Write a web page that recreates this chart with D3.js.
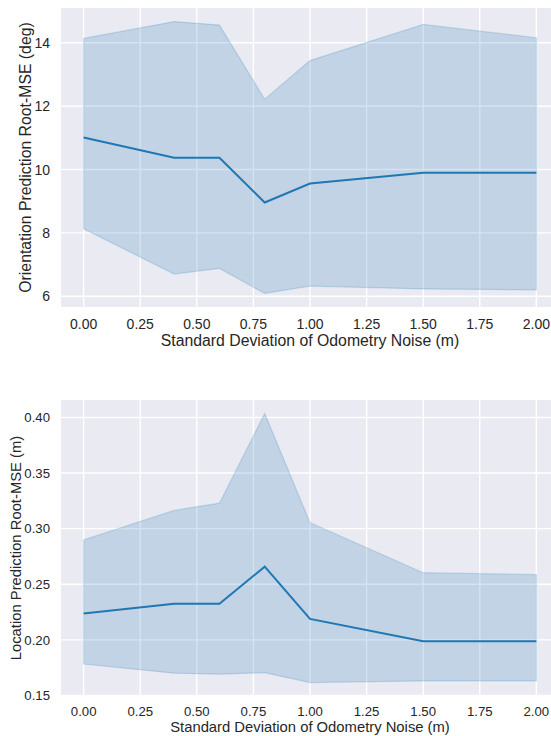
<!DOCTYPE html>
<meta charset="utf-8">
<script src="https://d3js.org/d3.v7.min.js"></script>
<style>
  body { margin: 0; background: #fff; }
  text { font-family: "Liberation Sans", Arial, sans-serif; fill: #262626; }
</style>
<div id="chart"></div>
<script>
// odometry noise levels (shared x values)
const noise = [0, 0.4, 0.6, 0.8, 1.0, 1.5, 2.0];
const xTicks = [0, 0.25, 0.5, 0.75, 1.0, 1.25, 1.5, 1.75, 2.0];

// orientation error (deg): mean and band
const oriMean  = [11.01, 10.37, 10.37, 8.96, 9.56, 9.90, 9.90];
const oriUpper = [14.14, 14.67, 14.56, 12.22, 13.44, 14.58, 14.16];
const oriLower = [8.13, 6.70, 6.88, 6.09, 6.32, 6.23, 6.20];
const oriTicks = [6, 8, 10, 12, 14];

// location error (m): mean and band
const locMean  = [0.2238, 0.2325, 0.2325, 0.2658, 0.2188, 0.1988, 0.1988];
const locUpper = [0.2899, 0.3164, 0.3229, 0.4036, 0.3054, 0.2604, 0.2586];
const locLower = [0.1783, 0.1700, 0.1691, 0.1705, 0.1616, 0.1631, 0.1631];
const locTicks = [0.15, 0.20, 0.25, 0.30, 0.35, 0.40];

const W = 551, H = 736;
const lineColor = "#1f77b4";

const svg = d3.select("#chart").append("svg")
    .attr("width", W).attr("height", H);

// same x scale for both panels (right edge runs off the picture)
const x = d3.scaleLinear().domain([-0.1, 2.1]).range([61, 559]);

function panel(o) {
  const {top, bottom, mean, upper, lower, yTicks, yFmt, yLabel, labelX, tickSize, labelSize} = o;
  const data = noise.map((n, i) => ({x: n, m: mean[i], hi: upper[i], lo: lower[i]}));
  const lo = d3.min(lower), hi = d3.max(upper), pad = (hi - lo) * 0.05;
  const y = d3.scaleLinear().domain([lo - pad, hi + pad]).range([bottom, top]);

  const g = svg.append("g");

  g.append("rect")
    .attr("x", x.range()[0]).attr("y", top)
    .attr("width", x.range()[1] - x.range()[0]).attr("height", bottom - top)
    .attr("fill", "#eaeaf2");

  // grid
  g.append("g").selectAll("line").data(xTicks).join("line")
    .attr("x1", d => x(d)).attr("x2", d => x(d))
    .attr("y1", top).attr("y2", bottom)
    .attr("stroke", "#fff").attr("stroke-width", 1.4);
  g.append("g").selectAll("line").data(yTicks).join("line")
    .attr("x1", x.range()[0]).attr("x2", x.range()[1])
    .attr("y1", d => y(d)).attr("y2", d => y(d))
    .attr("stroke", "#fff").attr("stroke-width", 1.4);

  // band
  const area = d3.area().x(d => x(d.x)).y0(d => y(d.lo)).y1(d => y(d.hi));
  g.append("path").datum(data)
    .attr("d", area)
    .attr("fill", lineColor).attr("fill-opacity", 0.2)
    .attr("stroke", lineColor).attr("stroke-opacity", 0.2).attr("stroke-width", 1.2);

  // mean line
  const line = d3.line().x(d => x(d.x)).y(d => y(d.m));
  g.append("path").datum(data)
    .attr("d", line)
    .attr("fill", "none").attr("stroke", lineColor).attr("stroke-width", 2);

  // tick labels
  g.append("g").selectAll("text").data(xTicks).join("text")
    .attr("x", d => x(d)).attr("y", bottom + tickSize * 1.55)
    .attr("text-anchor", "middle").attr("font-size", tickSize)
    .text(d => d3.format(".2f")(d));
  g.append("g").selectAll("text").data(yTicks).join("text")
    .attr("x", 50).attr("y", d => y(d) + tickSize * 0.36)
    .attr("text-anchor", "end").attr("font-size", tickSize)
    .text(d => yFmt(d));

  // axis titles
  g.append("text")
    .attr("x", 310).attr("y", bottom + labelSize * 2.44)
    .attr("text-anchor", "middle").attr("font-size", labelSize)
    .text("Standard Deviation of Odometry Noise (m)");
  g.append("text")
    .attr("transform", `translate(${labelX}, ${(top + bottom) / 2}) rotate(-90)`)
    .attr("text-anchor", "middle").attr("font-size", labelSize)
    .text(yLabel);
}

panel({top: 8, bottom: 307, mean: oriMean, upper: oriUpper, lower: oriLower,
  yTicks: oriTicks, yFmt: d3.format("d"), yLabel: "Orientation Prediction Root-MSE (deg)",
  labelX: 31, tickSize: 14, labelSize: 15.8});
panel({top: 400, bottom: 696, mean: locMean, upper: locUpper, lower: locLower,
  yTicks: locTicks, yFmt: d3.format(".2f"), yLabel: "Location Prediction Root-MSE (m)",
  labelX: 20.5, tickSize: 13.2, labelSize: 14.8});
</script>
